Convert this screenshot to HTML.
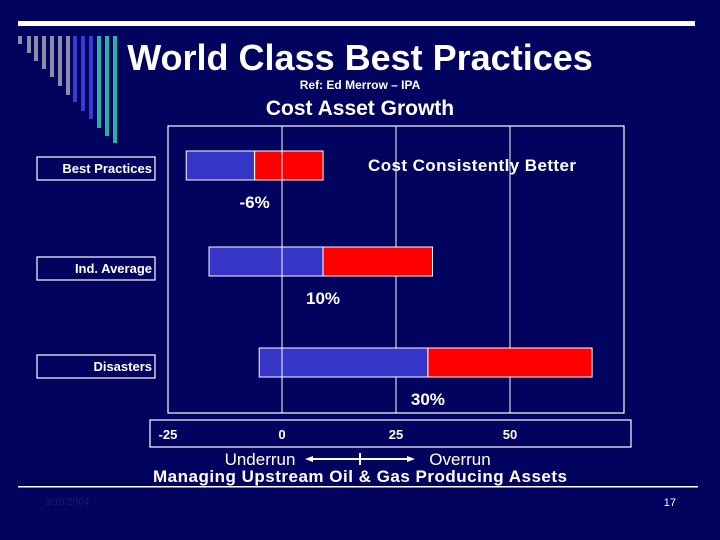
<!DOCTYPE html>
<html><head><meta charset="utf-8"><style>
html,body{margin:0;padding:0;background:#02025f;}
svg{display:block;font-family:"Liberation Sans",Arial,sans-serif;}
</style></head><body>
<svg id="s" width="720" height="540" viewBox="0 0 720 540">
<rect width="720" height="540" fill="#02025f"/>
<rect x="18" y="21" width="677" height="5" fill="#ffffff"/>
<g id="stripes"></g>
<text x="360" y="70" text-anchor="middle" font-size="36" font-weight="bold" fill="#fff">World Class Best Practices</text>
<text x="360" y="89" text-anchor="middle" font-size="12" font-weight="bold" fill="#fff">Ref: Ed Merrow – IPA</text>
<text x="360" y="115" text-anchor="middle" font-size="21" font-weight="bold" fill="#fff">Cost Asset Growth</text>
<rect x="168" y="126" width="456" height="287" fill="none" stroke="#fff" stroke-width="1.2"/>
<g id="grid"></g>
<g id="bars"></g>
<text x="472" y="171" text-anchor="middle" font-size="17" font-weight="bold" fill="#fff" textLength="208">Cost Consistently Better</text>
<rect x="150" y="420" width="481" height="27" fill="none" stroke="#fff" stroke-width="1.2"/>
<g id="ticks"></g>
<text x="260" y="465" text-anchor="middle" font-size="17" fill="#fff">Underrun</text>
<text x="460" y="465" text-anchor="middle" font-size="17" fill="#fff">Overrun</text>
<g stroke="#fff" stroke-width="2" fill="#fff">
<line x1="308" y1="459" x2="412" y2="459"/><line x1="360" y1="453" x2="360" y2="465"/>
<polygon points="305,459 313,456 313,462" stroke="none"/><polygon points="415,459 407,456 407,462" stroke="none"/>
</g>
<text x="360" y="482" text-anchor="middle" font-size="17" font-weight="bold" fill="#fff" textLength="414">Managing Upstream Oil &amp; Gas Producing Assets</text>
<rect x="18" y="486" width="680" height="1.5" fill="#fff"/>
<text x="45" y="505" font-size="10" fill="#1a1a70">3/10/2004</text>
<text x="676" y="506" text-anchor="end" font-size="11" fill="#fff">17</text>
</svg>
<script>
const categories = ["Best Practices", "Ind. Average", "Disasters"];
const lowValues = [-21, -16, -5];
const meanValues = [-6, 9, 32];
const highValues = [9, 33, 68];
const meanLabels = ["-6%", "10%", "30%"];
const tickValues = [-25, 0, 25, 50];

const NS = "http://www.w3.org/2000/svg";
function mk(tag, attrs, parent, txt){const e=document.createElementNS(NS,tag);for(const k in attrs)e.setAttribute(k,attrs[k]);if(txt!==undefined)e.textContent=txt;parent.appendChild(e);return e;}
function xScale(v){return 282 + (v)*(396-282)/25;}
const rowTop=[151,247,348], barH=29, labelTop=[157,257,355];
function yBand(i){return rowTop[i];}

const st=document.getElementById('stripes');
const sx=[18,27,34,42,50,58,66,73,81,89,97,105,113];
const se=[44,53,61,69,77,86,95,102,111,119,128,136,143];
sx.forEach((x,i)=>{
  const r=mk('rect',{x:x,y:36,width:4,height:se[i]-36,fill:i<7?'#8a8ea6':(i<10?'#3a3ad0':'#25b3a3')},st);
  
  
});

const grid=document.getElementById('grid');
[0,25,50].forEach(v=>{
  const l=mk('line',{x1:xScale(v),x2:xScale(v),y1:126,y2:413,stroke:'#fff','stroke-width':1},grid);
  
  
});

const bars=document.getElementById('bars');
categories.forEach((c,i)=>{
  const y=yBand(i), ly=labelTop[i];
  const lb=mk('rect',{x:37,y:ly,width:118,height:23,fill:'none',stroke:'#fff','stroke-width':1.2},bars);
  
  
  const lt=mk('text',{x:152,y:ly+16,'text-anchor':'end','font-size':13,'font-weight':'bold',fill:'#fff'},bars,c);
  
  
  const b1=mk('rect',{x:xScale(lowValues[i]),y:y,width:xScale(meanValues[i])-xScale(lowValues[i]),height:barH,fill:'#3535c8',stroke:'#fff','stroke-width':1},bars);
  
  
  const b2=mk('rect',{x:xScale(meanValues[i]),y:y,width:xScale(highValues[i])-xScale(meanValues[i]),height:barH,fill:'#ff0000',stroke:'#fff','stroke-width':1},bars);
  
  
  const zl=mk('line',{x1:282,x2:282,y1:y,y2:y+barH,stroke:'#fff','stroke-width':1},bars);
  
  
  const pl=mk('text',{x:xScale(meanValues[i]),y:y+57,'text-anchor':'middle','font-size':17,'font-weight':'bold',fill:'#fff'},bars,meanLabels[i]);
  
  
});

const ticks=document.getElementById('ticks');
tickValues.forEach((v,i)=>{
  const t=mk('text',{x:xScale(v),y:439,'text-anchor':'middle','font-size':13,'font-weight':'bold',fill:'#fff'},ticks,String(v));
  
  
});
</script>
</body></html>
